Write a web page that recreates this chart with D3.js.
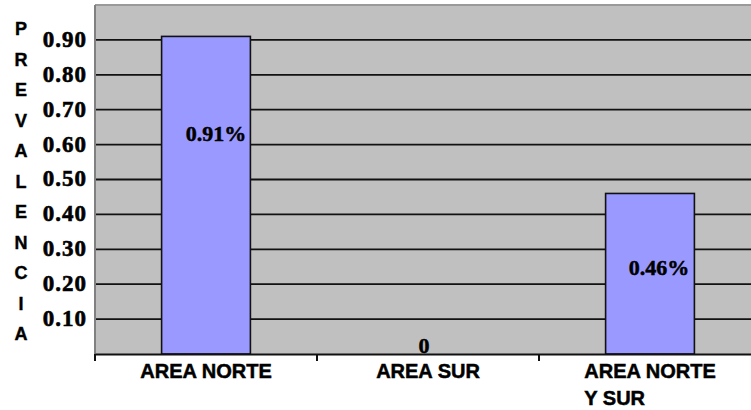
<!DOCTYPE html>
<html>
<head>
<meta charset="utf-8">
<script src="https://cdn.jsdelivr.net/npm/d3@7"></script>
<style>
  html, body { margin: 0; padding: 0; background: #fff; }
  svg { display: block; }
</style>
</head>
<body>
<script>
// Prevalence by area
const categories = [["AREA NORTE"], ["AREA SUR"], ["AREA NORTE", "Y SUR"]];
const prevalence = [0.91, 0, 0.46];
const valueLabels = ["0.91%", "0", "0.46%"];
const yTicks = [0.1, 0.2, 0.3, 0.4, 0.5, 0.6, 0.7, 0.8, 0.9];
const yTickLabels = ["0.10", "0.20", "0.30", "0.40", "0.50", "0.60", "0.70", "0.80", "0.90"];
const axisTitle = "PREVALENCIA";

const W = 751, H = 410;
const plot = { left: 95, top: 5, right: 761, bottom: 354 };

const svg = d3.select("body").append("svg").attr("width", W).attr("height", H);

const x = d3.scaleBand()
  .domain(d3.range(categories.length))
  .range([plot.left, plot.right])
  .paddingInner(0.6)
  .paddingOuter(0.3);

const y = d3.scaleLinear().domain([0, 1]).range([plot.bottom, plot.top]);

// plot background
svg.append("rect")
  .attr("x", plot.left).attr("y", plot.top)
  .attr("width", plot.right - plot.left).attr("height", plot.bottom - plot.top)
  .attr("fill", "#c0c0c0");

// top and left frame edges
svg.append("line")
  .attr("x1", plot.left).attr("x2", plot.right)
  .attr("y1", plot.top).attr("y2", plot.top)
  .attr("stroke", "#9a9a9a").attr("stroke-width", 2);
svg.append("line")
  .attr("x1", plot.left).attr("x2", plot.left)
  .attr("y1", plot.top).attr("y2", plot.bottom)
  .attr("stroke", "#808080").attr("stroke-width", 2);

// gridlines
svg.append("g")
  .selectAll("line")
  .data(yTicks)
  .join("line")
  .attr("x1", plot.left + 1).attr("x2", plot.right)
  .attr("y1", d => y(d)).attr("y2", d => y(d))
  .attr("stroke", "#111").attr("stroke-width", 1.8);

// bars
svg.append("g")
  .selectAll("rect")
  .data(prevalence)
  .join("rect")
  .attr("x", (d, i) => x(i))
  .attr("y", d => y(d))
  .attr("width", x.bandwidth())
  .attr("height", d => y(0) - y(d))
  .attr("fill", "#9999ff")
  .attr("stroke", "#111")
  .attr("stroke-width", 1.6)
  .style("display", d => d > 0 ? null : "none");

// category axis
const xAxis = d3.axisBottom(x).tickSize(0).tickFormat("");
const gx = svg.append("g")
  .attr("transform", `translate(0,${plot.bottom})`)
  .call(xAxis);
gx.select(".domain").attr("stroke", "#111").attr("stroke-width", 2);

// tick marks at the category boundaries
const bounds = d3.range(categories.length).map(i => x(i) - x.step() * x.paddingOuter());
svg.append("g")
  .selectAll("line")
  .data(bounds)
  .join("line")
  .attr("x1", d => d).attr("x2", d => d)
  .attr("y1", plot.bottom).attr("y2", plot.bottom + 7)
  .attr("stroke", "#111").attr("stroke-width", 2);

// category labels, wrapped lines aligned to the first line's left edge
const catG = svg.append("g")
  .attr("font-family", "'Liberation Sans', Arial, sans-serif")
  .attr("font-weight", "bold")
  .attr("font-size", 20)
  .attr("fill", "#000")
  .attr("stroke", "#000")
  .attr("stroke-width", 0.5);
categories.forEach((lines, i) => {
  const cx = x(i) + x.bandwidth() / 2;
  const t = catG.append("text").attr("y", 378);
  lines.forEach((ln, j) => {
    t.append("tspan").attr("x", cx).attr("dy", j === 0 ? 0 : 27).text(ln);
  });
  if (lines.length > 1) {
    const first = t.select("tspan").node().getComputedTextLength();
    t.selectAll("tspan").attr("x", cx - first / 2);
  } else {
    t.attr("text-anchor", "middle");
    t.select("tspan").attr("x", cx);
  }
});

// value axis labels
const yAxis = d3.axisLeft(y).tickValues(yTicks).tickSize(0)
  .tickFormat((d, i) => yTickLabels[i]);
const gy = svg.append("g")
  .attr("transform", `translate(${plot.left - 5},0)`)
  .call(yAxis);
gy.select(".domain").remove();
gy.selectAll("text")
  .attr("font-family", "'Liberation Serif', 'Times New Roman', serif")
  .attr("font-weight", "bold")
  .attr("font-size", 23)
  .attr("letter-spacing", 1)
  .attr("fill", "#000")
  .attr("stroke", "#000")
  .attr("stroke-width", 0.6)
  .attr("dy", "0.28em");

// vertical axis title, one letter per row
svg.append("g")
  .selectAll("text")
  .data(axisTitle.split(""))
  .join("text")
  .attr("x", 21)
  .attr("y", (d, i) => 35 + i * 30.5)
  .attr("text-anchor", "middle")
  .attr("font-family", "'Liberation Sans', Arial, sans-serif")
  .attr("font-weight", "bold")
  .attr("font-size", 18)
  .attr("fill", "#000")
  .attr("stroke", "#000")
  .attr("stroke-width", 0.4)
  .text(d => d);

// value labels inside the bars
const labelAt = [0.61, 0.003, 0.225];
const labelDx = [10, -4, 9];
svg.append("g")
  .selectAll("text")
  .data(prevalence)
  .join("text")
  .attr("x", (d, i) => x(i) + x.bandwidth() / 2 + labelDx[i])
  .attr("y", (d, i) => y(labelAt[i]))
  .attr("text-anchor", "middle")
  .attr("font-family", "'Liberation Serif', 'Times New Roman', serif")
  .attr("font-weight", "bold")
  .attr("font-size", 22)
  .attr("fill", "#000")
  .attr("stroke", "#000")
  .attr("stroke-width", 0.5)
  .text((d, i) => valueLabels[i]);
</script>
</body>
</html>
